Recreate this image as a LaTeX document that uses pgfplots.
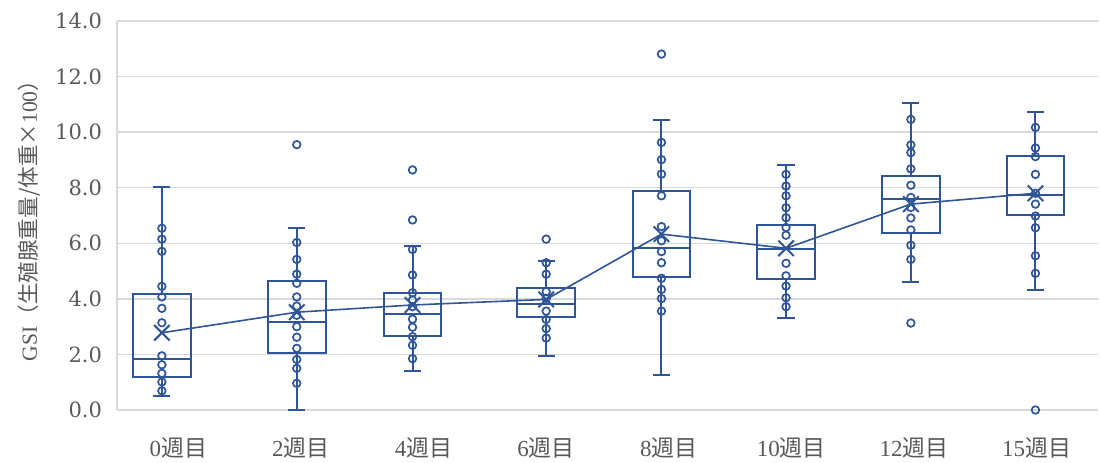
\documentclass[border=0pt]{standalone}
\usepackage{fontspec}
\setmainfont{Liberation Serif}
\newfontfamily\cjk{Noto Sans CJK JP}
\newfontfamily\numfont{DejaVu Serif}
\usepackage{pgfplots}
\pgfplotsset{compat=1.18}
\usepgfplotslibrary{statistics}
\definecolor{bx}{HTML}{2F5597}
\definecolor{grd}{HTML}{D9D9D9}
\definecolor{txt}{HTML}{595959}

% inner points / outliers: x = drawn box position, y = GSI
\pgfplotstableread{
x y
-0.134 6.54
-0.134 6.15
-0.134 5.71
-0.134 4.45
-0.134 4.07
-0.134 3.66
-0.134 3.14
-0.134 1.95
-0.134 1.63
-0.134 1.32
-0.134 1.01
-0.134 0.69
0.966 9.55
0.966 6.03
0.966 5.42
0.966 4.89
0.966 4.56
0.966 4.07
0.966 3.74
0.966 3.41
0.966 3.00
0.966 2.62
0.966 2.22
0.966 1.82
0.966 1.50
0.966 0.96
1.91 8.64
1.91 6.84
1.91 5.78
1.91 4.86
1.91 4.22
1.91 3.96
1.91 3.72
1.91 3.27
1.91 2.98
1.91 2.64
1.91 2.33
1.91 1.85
3.00 6.15
3.00 5.30
3.00 4.89
3.00 4.26
3.00 4.02
3.00 3.56
3.00 3.26
3.00 2.93
3.00 2.59
3.94 12.81
3.94 9.63
3.94 9.01
3.94 8.49
3.94 7.71
3.94 6.60
3.94 6.09
3.94 5.70
3.94 5.30
3.94 4.74
3.94 4.34
3.94 4.01
3.94 3.56
4.956 8.48
4.956 8.06
4.956 7.71
4.956 7.28
4.956 6.92
4.956 6.57
4.956 6.29
4.956 5.28
4.956 4.83
4.956 4.46
4.956 4.04
4.956 3.72
5.974 10.46
5.974 9.54
5.974 9.26
5.974 8.68
5.974 8.09
5.974 7.65
5.974 7.29
5.974 6.91
5.974 6.48
5.974 5.93
5.974 5.42
5.974 3.13
6.99 10.17
6.99 9.43
6.99 9.12
6.99 8.48
6.99 7.80
6.99 7.41
6.99 6.98
6.99 6.56
6.99 5.55
6.99 4.92
6.99 0.00
}\points

\pgfplotstableread{
x y
-0.134 2.78
0.966 3.52
1.91 3.78
3.00 3.98
3.94 6.33
4.956 5.82
5.974 7.41
6.99 7.80
}\means

\begin{document}
\begin{tikzpicture}
\begin{axis}[
  name=ax,
  scale only axis,
  width=490.5pt, height=194.5pt,
  xmin=-0.5, xmax=7.5,
  ymin=0, ymax=14,
  ytick={0,2,...,14},
  xtick={0,1,2,3,4,5,6,7},
  xticklabels={0{\cjk 週目},2{\cjk 週目},4{\cjk 週目},6{\cjk 週目},8{\cjk 週目},10{\cjk 週目},12{\cjk 週目},15{\cjk 週目}},
  major tick length=0pt,
  ymajorgrids,
  major grid style={draw=grd, line width=0.75pt},
  axis line style={draw=grd, line width=0.75pt},
  axis x line*=bottom,
  axis y line*=left,
  /pgf/number format/assume math mode=true,
  yticklabel style={font=\numfont\fontsize{10.5}{12}\selectfont, text=txt, xshift=-4pt,
    /pgf/number format/fixed, /pgf/number format/fixed zerofill, /pgf/number format/precision=1},
  xticklabel style={font=\fontsize{11.5}{13}\selectfont, text=txt, yshift=-10.5pt},
  ylabel={GSI{\cjk （生殖腺重量/体重×}100{\cjk ）}},
  ylabel style={at={(axis description cs:-0.089,0.5)}, anchor=center, font=\fontsize{10.8}{12}\selectfont, text=txt},
  clip=false,
]
\pgfplotsset{boxplot/draw direction=y}
\addplot[draw=bx, line width=1pt, boxplot prepared={draw position=-0.134, lower whisker=0.50, lower quartile=1.20, median=1.82, upper quartile=4.17, upper whisker=8.01, box extend=0.47, whisker extend=0.14}] coordinates {};
\addplot[draw=bx, line width=1pt, boxplot prepared={draw position=0.966, lower whisker=0.0, lower quartile=2.04, median=3.18, upper quartile=4.65, upper whisker=6.54, box extend=0.47, whisker extend=0.14}] coordinates {};
\addplot[draw=bx, line width=1pt, boxplot prepared={draw position=1.91, lower whisker=1.41, lower quartile=2.66, median=3.47, upper quartile=4.20, upper whisker=5.90, box extend=0.47, whisker extend=0.14}] coordinates {};
\addplot[draw=bx, line width=1pt, boxplot prepared={draw position=3.00, lower whisker=1.94, lower quartile=3.36, median=3.83, upper quartile=4.40, upper whisker=5.36, box extend=0.47, whisker extend=0.14}] coordinates {};
\addplot[draw=bx, line width=1pt, boxplot prepared={draw position=3.94, lower whisker=1.26, lower quartile=4.80, median=5.83, upper quartile=7.89, upper whisker=10.42, box extend=0.47, whisker extend=0.14}] coordinates {};
\addplot[draw=bx, line width=1pt, boxplot prepared={draw position=4.956, lower whisker=3.30, lower quartile=4.70, median=5.79, upper quartile=6.66, upper whisker=8.80, box extend=0.47, whisker extend=0.14}] coordinates {};
\addplot[draw=bx, line width=1pt, boxplot prepared={draw position=5.974, lower whisker=4.61, lower quartile=6.36, median=7.60, upper quartile=8.43, upper whisker=11.04, box extend=0.47, whisker extend=0.14}] coordinates {};
\addplot[draw=bx, line width=1pt, boxplot prepared={draw position=6.99, lower whisker=4.33, lower quartile=7.02, median=7.74, upper quartile=9.14, upper whisker=10.72, box extend=0.47, whisker extend=0.14}] coordinates {};
\addplot[only marks, mark=o, mark size=1.9pt, draw=bx, mark options={line width=0.85pt, draw=bx, fill=none}] table[x=x, y=y] {\points};
\addplot[draw=bx, line width=0.8pt, mark=x, mark size=5.5pt, mark options={line width=1pt, draw=bx}] table[x=x, y=y] {\means};
\end{axis}
\pgfresetboundingbox
\path[use as bounding box] ([xshift=-58.5pt,yshift=-26pt]ax.south west) rectangle ([xshift=1pt,yshift=10.5pt]ax.north east);
\end{tikzpicture}
\end{document}
